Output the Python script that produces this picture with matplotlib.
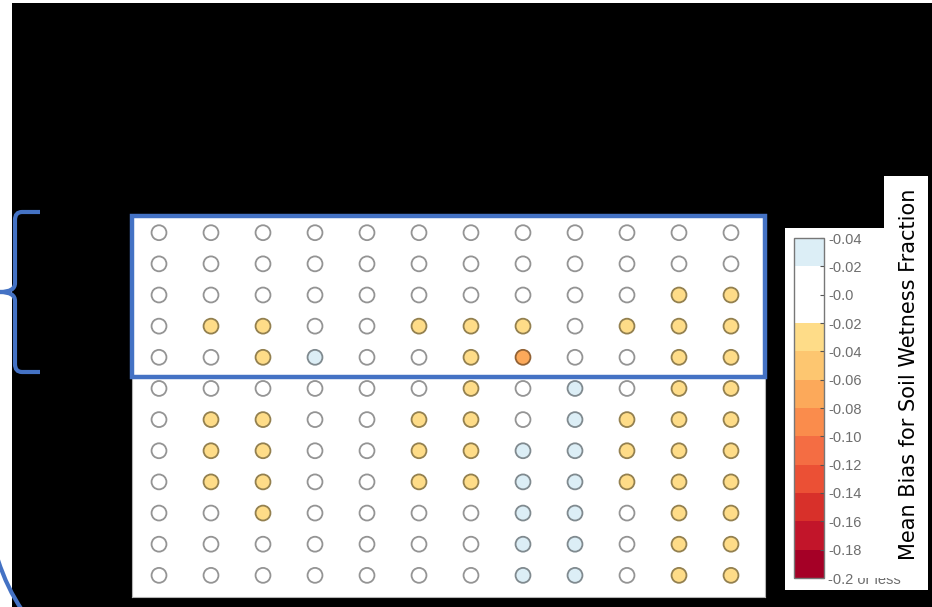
import numpy as np
import matplotlib
matplotlib.use('Agg')
import matplotlib.pyplot as plt
from matplotlib.colors import ListedColormap, BoundaryNorm
from matplotlib.patches import Rectangle, PathPatch
from matplotlib.path import Path
import matplotlib.cm as cm

W, H = 932, 607

# mean bias per site, rows top to bottom, 12 columns
biasRows = [
	[0, 0, 0, 0, 0, 0, 0, 0, 0, 0, 0, 0],
	[0, 0, 0, 0, 0, 0, 0, 0, 0, 0, 0, 0],
	[0, 0, 0, 0, 0, 0, 0, 0, 0, 0, -0.03, -0.03],
	[0, -0.03, -0.03, 0, 0, -0.03, -0.03, -0.03, 0, -0.03, -0.03, -0.03],
	[0, 0, -0.03, 0.03, 0, 0, -0.03, -0.07, 0, 0, -0.03, -0.03],
	[0, 0, 0, 0, 0, 0, -0.03, 0, 0.03, 0, -0.03, -0.03],
	[0, -0.03, -0.03, 0, 0, -0.03, -0.03, 0, 0.03, -0.03, -0.03, -0.03],
	[0, -0.03, -0.03, 0, 0, -0.03, -0.03, 0.03, 0.03, -0.03, -0.03, -0.03],
	[0, -0.03, -0.03, 0, 0, -0.03, -0.03, 0.03, 0.03, -0.03, -0.03, -0.03],
	[0, 0, -0.03, 0, 0, 0, 0, 0.03, 0.03, 0, -0.03, -0.03],
	[0, 0, 0, 0, 0, 0, 0, 0.03, 0.03, 0, -0.03, -0.03],
	[0, 0, 0, 0, 0, 0, 0, 0.03, 0.03, 0, -0.03, -0.03],
]

binEdges = [-0.20, -0.18, -0.16, -0.14, -0.12, -0.10, -0.08, -0.06, -0.04, -0.02, 0.0, 0.02, 0.04]
binColors = ['#a50026', '#c2152a', '#d8302a', '#eb5035', '#f46d43', '#fa8c4c',
			 '#fca95a', '#fdc670', '#fedc88', '#ffffff', '#ffffff', '#dceef6']
edgeLabels = ['-0.2 or less', '-0.18', '-0.16', '-0.14', '-0.12', '-0.10', '-0.08',
			  '-0.06', '-0.04', '-0.02', '-0.0', '-0.02', '-0.04']
titleText = 'Mean Bias for Soil Wetness Fraction'

blue = '#4472c4'

fig = plt.figure(figsize=(W / 100, H / 100), dpi=100, facecolor='black')

bgAx = fig.add_axes([0, 0, 1, 1], zorder=0)
bgAx.set_xlim(0, W)
bgAx.set_ylim(H, 0)
bgAx.axis('off')
bgAx.add_patch(Rectangle((0, 0), 12, H, color='white', lw=0))
bgAx.add_patch(Rectangle((0, 0), W, 3, color='white', lw=0))
bgAx.add_patch(Rectangle((785, 228), 143, 362, color='white', lw=0))
bgAx.add_patch(Rectangle((884, 176), 44, 60, color='white', lw=0))

cmap = ListedColormap(binColors)
norm = BoundaryNorm(binEdges, ncolors=len(binColors))

# circle grid
gx0, gx1, gy0, gy1 = 132, 765, 216, 597
colX0, colStep = 159, 52
rowY0, rowStep = 232.7, 31.15
ax = fig.add_axes([gx0 / W, 1 - gy1 / H, (gx1 - gx0) / W, (gy1 - gy0) / H], zorder=1)
ax.set_facecolor('white')
ax.set_xlim((gx0 - colX0) / colStep, (gx1 - colX0) / colStep)
ax.set_ylim((gy1 - rowY0) / rowStep, (gy0 - rowY0) / rowStep)
ax.set_xticks([])
ax.set_yticks([])
for sp in ax.spines.values():
	sp.set_color('#b5b5b5')
	sp.set_linewidth(0.8)

vals = np.array(biasRows, dtype=float)
rr, cc = np.meshgrid(np.arange(vals.shape[0]), np.arange(vals.shape[1]), indexing='ij')
fills = cmap(norm(vals.ravel()))
edges = [tuple(np.array(f[:3]) * 0.58) for f in fills]
ax.scatter(cc.ravel(), rr.ravel(), c=vals.ravel(), cmap=cmap, norm=norm,
		   s=115, edgecolors=edges, linewidths=1.3, zorder=3)

# colorbar
cax = fig.add_axes([794 / W, 1 - 578 / H, 30 / W, 340 / H], zorder=1)
sm = cm.ScalarMappable(norm=norm, cmap=cmap)
cb = fig.colorbar(sm, cax=cax, ticks=binEdges, spacing='proportional')
cb.outline.set_edgecolor('#777777')
cb.outline.set_linewidth(1.0)
cb.set_ticklabels(edgeLabels)
cax.tick_params(direction='in', length=3, width=0.8, color='#555555',
				labelsize=10.5, labelcolor='#6e6e6e', pad=3)
for lab in cax.get_yticklabels():
	lab.set_fontfamily('Liberation Sans')

# overlay: highlight box, bracket, title box
topAx = fig.add_axes([0, 0, 1, 1], zorder=5)
topAx.set_xlim(0, W)
topAx.set_ylim(H, 0)
topAx.axis('off')
topAx.patch.set_alpha(0)

topAx.add_patch(Rectangle((132, 216), 633, 161, fill=False, edgecolor=blue, lw=3.2))

brVerts = [(40, 212), (22, 212), (15, 212), (15, 220), (15, 283), (15, 292), (0, 292),
		   (15, 292), (15, 301), (15, 364), (15, 372), (22, 372), (40, 372)]
brCodes = [Path.MOVETO, Path.LINETO, Path.CURVE3, Path.CURVE3, Path.LINETO, Path.CURVE3, Path.CURVE3,
		   Path.CURVE3, Path.CURVE3, Path.LINETO, Path.CURVE3, Path.CURVE3, Path.LINETO]
topAx.add_patch(PathPatch(Path(brVerts, brCodes), fill=False, edgecolor=blue, lw=3, capstyle='butt'))

arcPath = Path([(-2, 560), (7, 588), (22, 610)], [Path.MOVETO, Path.CURVE3, Path.CURVE3])
topAx.add_patch(PathPatch(arcPath, fill=False, edgecolor=blue, lw=3))

# top of "or less" is hidden in the original
topAx.add_patch(Rectangle((856, 566), 72, 11.5, color='white', lw=0, zorder=4))

topAx.text(909, 374, titleText, rotation=90, ha='center', va='center',
		   fontsize=15, color='black', family='DejaVu Sans')

fig.savefig('out.png', dpi=100, facecolor='black')
